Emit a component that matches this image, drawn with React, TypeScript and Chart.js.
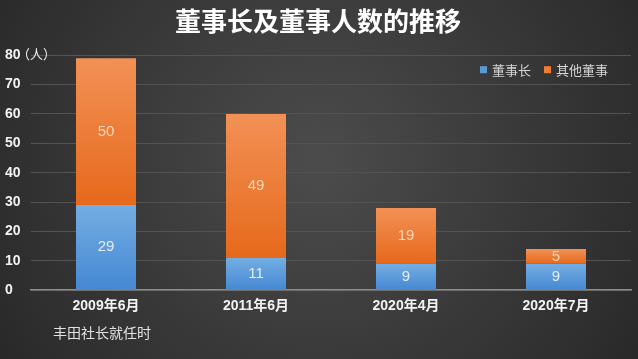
import React, { useEffect, useRef } from 'react';
import { Chart, registerables } from 'chart.js';

Chart.register(...registerables);

const categories = ['2009年6月', '2011年6月', '2020年4月', '2020年7月'];
const chairmanCounts = [29, 11, 9, 9];
const otherDirectorCounts = [50, 49, 19, 5];
const seriesNames = ['董事长', '其他董事'];
const legendColors = ['#5b9bd5', '#ed7d31'];
const titleText = '董事长及董事人数的推移';
const yMax = 80;
const yStep = 10;
const yUnit = '（人）';
const noteText = '丰田社长就任时';
const noteCategoryIndex = 0;

const FONT = '"Liberation Sans", "Noto Sans CJK SC", sans-serif';
const CJK = '"Noto Sans CJK SC", sans-serif';

const blueStops = ['#74ade3', '#4588d2'];
const orangeStops = ['#f29156', '#e6691b'];

function barGradient(ctx: any, dsIndex: number, stops: string[]) {
  const chart = ctx.chart;
  const y = chart.scales && chart.scales.y;
  if (!y || !chart.chartArea || ctx.dataIndex === undefined) return stops[1];
  const i = ctx.dataIndex;
  const start = dsIndex === 0 ? 0 : chairmanCounts[i];
  const end = dsIndex === 0 ? chairmanCounts[i] : chairmanCounts[i] + otherDirectorCounts[i];
  const top = y.getPixelForValue(end);
  const bottom = y.getPixelForValue(start);
  if (!isFinite(top) || !isFinite(bottom) || top === bottom) return stops[1];
  const g = chart.ctx.createLinearGradient(0, top, 0, bottom);
  g.addColorStop(0, stops[0]);
  g.addColorStop(1, stops[1]);
  return g;
}

const bgPlugin = {
  id: 'bgPlugin',
  beforeDraw(chart: any) {
    const { ctx, width, height } = chart;
    ctx.save();
    const g = ctx.createRadialGradient(width * 0.5, height * 0.45, 10, width * 0.5, height * 0.45, width * 0.62);
    g.addColorStop(0, '#4b4b4b');
    g.addColorStop(1, '#272727');
    ctx.fillStyle = g;
    ctx.fillRect(0, 0, width, height);
    ctx.restore();
  },
};

const labelPlugin = {
  id: 'labelPlugin',
  afterDatasetsDraw(chart: any) {
    const { ctx, chartArea } = chart;
    const colors = ['#e3edf9', '#fcd6b8'];
    ctx.save();
    ctx.font = '15px ' + FONT;
    ctx.textAlign = 'center';
    ctx.textBaseline = 'middle';
    chart.data.datasets.forEach((ds: any, di: number) => {
      const meta = chart.getDatasetMeta(di);
      meta.data.forEach((el: any, i: number) => {
        ctx.fillStyle = colors[di];
        ctx.fillText(String(ds.data[i]), el.x, (el.y + el.base) / 2);
      });
    });
    // note under first category
    const xs = chart.scales.x;
    ctx.font = '14px ' + FONT;
    ctx.fillStyle = '#e2e2e2';
    ctx.fillText(noteText, xs.getPixelForValue(noteCategoryIndex) - 4, 334);

    // unit after top tick
    const ys = chart.scales.y;
    ctx.font = '13px ' + CJK;
    ctx.fillStyle = '#f0f0f0';
    ctx.textAlign = 'left';
    ctx.fillText(yUnit, 17, ys.getPixelForValue(yMax) - 1);

    // legend
    let x = 480;
    const ly = chartArea.top + 15;
    ctx.font = '13px ' + CJK;
    chart.data.datasets.forEach((ds: any, di: number) => {
      ctx.fillStyle = legendColors[di];
      ctx.fillRect(x, ly - 4, 7, 7);
      ctx.fillStyle = '#d4d4d4';
      ctx.fillText(ds.label, x + 12, ly);
      x += 12 + ctx.measureText(ds.label).width + 13;
    });
    ctx.restore();
  },
};

export default function App() {
  const ref = useRef<HTMLCanvasElement | null>(null);
  useEffect(() => {
    document.body.style.margin = '0';
    const canvas = ref.current!;
    const chart = new Chart(canvas, {
      type: 'bar',
      data: {
        labels: categories,
        datasets: [
          {
            label: seriesNames[0],
            data: chairmanCounts,
            backgroundColor: (c: any) => barGradient(c, 0, blueStops),
            borderWidth: 0,
            barPercentage: 0.8,
            categoryPercentage: 0.5,
          },
          {
            label: seriesNames[1],
            data: otherDirectorCounts,
            backgroundColor: (c: any) => barGradient(c, 1, orangeStops),
            borderWidth: 0,
            barPercentage: 0.8,
            categoryPercentage: 0.5,
          },
        ],
      },
      options: {
        animation: false,
        responsive: false,
        maintainAspectRatio: false,
        layout: { padding: { left: 5, right: 7, top: 0, bottom: 36 } },
        plugins: {
          title: {
            display: true,
            text: titleText,
            color: '#ffffff',
            font: { family: CJK, size: 26, weight: 'bold' },
            padding: { top: 6, bottom: 18 },
          },
          legend: { display: false },
          tooltip: { enabled: false },
        },
        scales: {
          x: {
            stacked: true,
            grid: { display: false, drawTicks: false },
            border: { display: true, color: '#8a8a8a', width: 1.5 },
            ticks: { color: '#f2f2f2', font: { family: FONT, size: 14, weight: 'bold' }, padding: 8 },
          },
          y: {
            stacked: true,
            min: 0,
            max: yMax,
            afterFit: (s: any) => { s.width = 26; },
            grid: { color: '#535353', lineWidth: 1, drawTicks: false },
            border: { display: false },
            ticks: {
              stepSize: yStep,
              color: '#f2f2f2',
              crossAlign: 'far',
              padding: 4,
              font: { family: FONT, size: 14, weight: 'bold' },
            },
          },
        },
      },
      plugins: [bgPlugin, labelPlugin],
    });
    return () => chart.destroy();
  }, []);
  return <canvas ref={ref} width={638} height={359} style={{ display: 'block' }} />;
}
